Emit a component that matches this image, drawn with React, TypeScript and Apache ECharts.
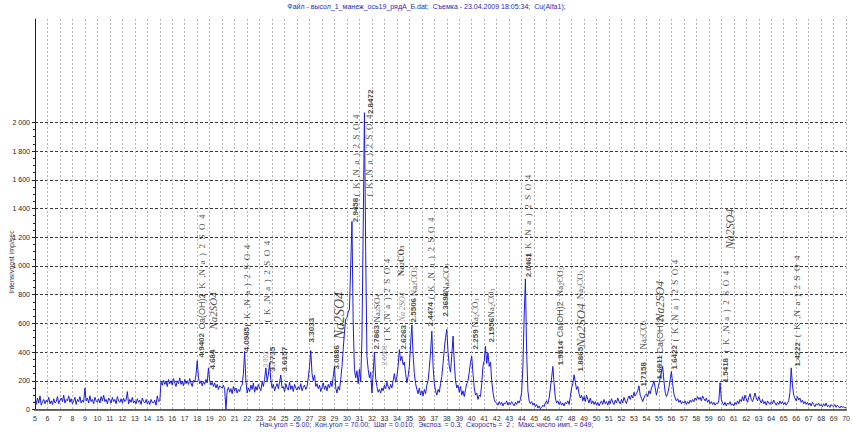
import { useEffect, useRef } from 'react';
import * as echarts from 'echarts';

// ---- Data -------------------------------------------------------------
const angleStart = 5; // 2θ start, degrees
const angleStep = 0.1; // 2θ step used for the hand-read trace

// intensity (imp/sec), one row per degree (x.0 ... x.9)
const intensity: number[] = [
  60, 35, 80, 45, 95, 30, 55, 70, 40, 65, // 5
  50, 85, 40, 60, 35, 75, 45, 55, 90, 40, // 6
  65, 80, 55, 100, 45, 70, 60, 95, 50, 75, // 7
  40, 60, 85, 35, 70, 55, 90, 45, 65, 50, // 8
  150, 60, 80, 45, 95, 55, 70, 40, 85, 60, // 9
  50, 75, 45, 90, 60, 100, 55, 70, 40, 80, // 10
  65, 45, 85, 55, 70, 40, 90, 60, 50, 75, // 11
  45, 80, 55, 65, 125, 40, 70, 50, 85, 45, // 12
  60, 40, 75, 50, 65, 35, 80, 55, 45, 70, // 13
  40, 60, 35, 70, 50, 45, 65, 30, 95, 55, // 14
  60, 190, 170, 205, 175, 195, 160, 210, 180, 200, // 15
  170, 215, 185, 160, 200, 180, 220, 175, 195, 165, // 16
  210, 180, 200, 175, 215, 185, 160, 205, 190, 240, // 17
  340, 220, 180, 200, 165, 195, 175, 210, 185, 290, // 18
  200, 170, 190, 160, 185, 150, 175, 140, 165, 155, // 19
  150, 170, 140, 0, 130, 155, 120, 145, 110, 160, // 20
  130, 150, 115, 140, 125, 160, 170, 250, 405, 200, // 21
  115, 150, 125, 170, 140, 185, 120, 160, 135, 175, // 22
  150, 130, 190, 160, 210, 290, 200, 240, 326, 200, // 23
  150, 175, 130, 160, 180, 145, 190, 240, 150, 160, // 24
  125, 180, 150, 135, 190, 140, 165, 125, 175, 150, // 25
  135, 160, 140, 180, 130, 155, 170, 140, 160, 220, // 26
  300, 410, 250, 200, 240, 160, 180, 145, 170, 125, // 27
  155, 185, 140, 165, 130, 175, 150, 190, 160, 230, // 28
  300, 150, 115, 160, 135, 210, 300, 420, 540, 630, // 29
  640, 676, 700, 1000, 1310, 600, 280, 220, 270, 180, // 30
  280, 200, 500, 1250, 2067, 1100, 370, 280, 220, 260, // 31
  115, 250, 400, 220, 160, 120, 140, 115, 150, 130, // 32
  170, 145, 190, 160, 140, 175, 150, 200, 250, 190, // 33
  230, 300, 417, 340, 370, 310, 330, 250, 186, 230, // 34
  300, 450, 590, 380, 250, 180, 140, 110, 150, 100, // 35
  130, 95, 140, 110, 170, 200, 290, 400, 546, 300, // 36
  180, 130, 100, 140, 120, 180, 230, 320, 420, 500, // 37
  558, 400, 300, 260, 380, 511, 330, 200, 150, 170, // 38
  120, 160, 100, 130, 90, 140, 180, 200, 260, 330, // 39
  371, 250, 150, 100, 115, 70, 100, 90, 180, 300, // 40
  340, 440, 320, 395, 300, 330, 200, 120, 70, 50, // 41
  45, 30, 55, 35, 50, 25, 45, 40, 60, 30, // 42
  50, 35, 55, 40, 25, 50, 35, 60, 45, 70, // 43
  120, 300, 650, 910, 400, 130, 60, 40, 55, 30, // 44
  45, 20, 35, 10, 25, 5, 15, 30, 20, 45, // 45
  60, 40, 80, 150, 220, 300, 180, 80, 45, 60, // 46
  35, 55, 30, 45, 25, 50, 40, 60, 35, 90, // 47
  150, 180, 242, 190, 140, 160, 110, 80, 100, 60, // 48
  90, 55, 100, 70, 45, 80, 40, 60, 35, 55, // 49
  30, 50, 25, 45, 60, 35, 70, 40, 55, 30, // 50
  60, 40, 75, 50, 35, 65, 45, 80, 55, 40, // 51
  70, 45, 85, 60, 40, 75, 95, 70, 100, 80, // 52
  120, 95, 110, 130, 165, 100, 80, 55, 80, 100, // 53
  110, 90, 130, 110, 150, 170, 200, 150, 100, 140, // 54
  180, 220, 260, 300, 200, 120, 90, 110, 150, 210, // 55
  265, 180, 110, 80, 60, 75, 50, 65, 40, 55, // 56
  45, 60, 35, 55, 40, 65, 50, 70, 55, 80, // 57
  65, 90, 70, 85, 60, 95, 75, 60, 80, 50, // 58
  65, 40, 55, 35, 50, 30, 45, 40, 60, 186, // 59
  70, 45, 30, 50, 25, 45, 35, 55, 30, 40, // 60
  25, 50, 35, 60, 40, 70, 55, 90, 60, 100, // 61
  75, 50, 85, 110, 70, 55, 80, 115, 80, 60, // 62
  90, 65, 45, 70, 40, 55, 30, 60, 45, 35, // 63
  55, 40, 65, 45, 30, 50, 35, 60, 40, 55, // 64
  35, 50, 30, 45, 60, 120, 290, 170, 100, 80, // 65
  60, 90, 65, 80, 50, 65, 40, 55, 35, 50, // 66
  30, 45, 25, 50, 35, 20, 40, 30, 45, 25, // 67
  35, 20, 40, 25, 45, 20, 30, 15, 35, 25, // 68
  20, 35, 15, 30, 20, 10, 25, 15, 20, 10, // 69
  15, // 70
];

// peak annotations: 2θ anchor, intensity anchor, text, kind
const labelAngles = [
  18.34, 19.22, 21.93, 23.45, 24.01, 24.97, 27.12, 29.2, 30.72, 31.92, 32.4, 33.04, 34.55,
  35.35, 36.71, 37.91, 40.3, 41.58, 44.54, 47.09, 48.69, 53.8, 55.08, 56.28, 60.35, 66.1,
  18.42, 22.01, 23.61, 30.72, 31.76, 33.2, 36.71, 44.54, 56.28, 60.35, 66.1,
  19.3, 29.44, 32.4, 34.47, 48.69, 55.08, 60.67,
  34.31, 35.35, 37.91, 40.3, 41.58, 47.09, 48.69, 53.72,
  18.42, 47.09, 55.08,
];
const labelLevels = [
  359, 275, 401, 289, 262, 262, 464, 275, 1301, 2054, 415, 304, 415,
  603, 575, 645, 415, 464, 917, 304, 262, 157, 206, 275, 185, 296,
  785, 575, 603, 1482, 1482, 478, 764, 1063, 471, 394, 499,
  554, 485, 603, 610, 429, 610, 1112,
  924, 785, 812, 568, 638, 785, 764, 415,
  554, 499, 387,
];
const K = '( K ,N a ) 2 S O 4';
const labelTexts = [
  '4.9402', '4.684', '4.0985', '3.802', '3.7735', '3.6157', '3.3033', '3.0836', '2.9458', '2.8472',
  '2.7863', '2.6508', '2.6263', '2.5506', '2.4474', '2.3698', '2.259', '2.1956', '2.0461', '1.9514',
  '1.8865', '1.7158', '1.6811', '1.6422', '1.5418', '1.4222',
  K, K, K, K, K, K, K, K, K, K, K,
  'Na2SO4', 'Na2SO4', 'Na2SO4', 'Na 2SO4', 'Na2SO4', 'Na2SO4', 'Na2SO4',
  'Na2CO3', 'Na2CO3', 'Na2CO3', 'Na2CO3', 'Na2CO3', 'Na2CO3', 'Na2CO3', 'Na2CO3',
  'Ca(OH)2', 'Ca(OH)2', 'Ca(OH)2',
];
const labelKinds = [
  'num', 'num', 'num', 'numSmall', 'num', 'num', 'num', 'num', 'num', 'num',
  'num', 'numSmall', 'num', 'num', 'num', 'num', 'num', 'num', 'num', 'num',
  'num', 'num', 'num', 'num', 'num', 'num',
  'k', 'k', 'k', 'k', 'k', 'k', 'k', 'k', 'k', 'k', 'k',
  'ni11', 'ni14', 'nsUp', 'ni8', 'ni13', 'ni12', 'ni12',
  'ncBold', 'nc', 'nc', 'nc', 'nc', 'nc', 'nc', 'nc',
  'ca', 'ca', 'ca',
];

const yMajorTicks = [0, 200, 400, 600, 800, 1000, 1200, 1400, 1600, 1800, 2000];
const yMinorTicks = [
  50, 100, 150, 250, 300, 350, 450, 500, 550, 650, 700, 750, 850, 900, 950, 1050, 1100, 1150,
  1250, 1300, 1350, 1450, 1500, 1550, 1650, 1700, 1750, 1850, 1900, 1950,
];

const titleText =
  'Файл - высол_1_манеж_ось19_рядА_Б.dat;  Съемка - 23.04.2009 18:05:34;  Cu(Alfa1);';
const footerText =
  'Нач.угол = 5.00;  Кон.угол = 70.00;  Шаг = 0.010;  Экспоз. = 0.3;  Скорость =  2 ;  Макс.число имп. = 649;';
const yName = 'Intensivnost imp/sec';

// ---- Styles ------------------------------------------------------------
const SANS = "'Liberation Sans', Arial, sans-serif";
const SERIF = "'Liberation Serif', 'DejaVu Serif', serif";

const rich: Record<string, any> = {
  d: { fontFamily: SANS, fontWeight: 'bold', fontSize: 8, color: '#1a1a1a' },
  ds: { fontFamily: SANS, fontSize: 6.5, color: '#808080' },
  k: { fontFamily: SERIF, fontSize: 9, color: '#222' },
  ca: { fontFamily: SANS, fontSize: 9, color: '#222' },
  ni8: { fontFamily: SERIF, fontStyle: 'italic', fontSize: 8, color: '#666' },
  ni11: { fontFamily: SERIF, fontStyle: 'italic', fontSize: 11, color: '#222' },
  ni12: { fontFamily: SERIF, fontStyle: 'italic', fontSize: 12, color: '#222' },
  ni13: { fontFamily: SERIF, fontStyle: 'italic', fontSize: 13, color: '#222' },
  ni14: { fontFamily: SERIF, fontStyle: 'italic', fontSize: 14, color: '#222' },
  nc: { fontFamily: SERIF, fontSize: 9, color: '#222' },
  ncSub: { fontFamily: SERIF, fontSize: 6, color: '#222', verticalAlign: 'bottom' },
  ncBold: { fontFamily: SERIF, fontSize: 9, fontWeight: 'bold', color: '#111' },
  ncBoldSub: { fontFamily: SERIF, fontSize: 6, fontWeight: 'bold', color: '#111', verticalAlign: 'bottom' },
  nsUp: { fontFamily: SERIF, fontSize: 9, color: '#222' },
  nsUpSub: { fontFamily: SERIF, fontSize: 6, color: '#222', verticalAlign: 'bottom' },
};

function richFor(text: string, kind: string): string {
  if (kind === 'num') return `{d|${text}}`;
  if (kind === 'numSmall') return `{ds|${text}}`;
  if (kind === 'k') return `{k|${text.split(' ').join('  ')}}`;
  if (kind === 'ca') return `{ca|${text}}`;
  if (kind.startsWith('ni')) return `{${kind}|${text}}`;
  return text
    .split(/(\d)/)
    .filter((s) => s.length > 0)
    .map((s) => (/\d/.test(s) ? `{${kind}Sub|${s}}` : `{${kind}|${s}}`))
    .join('');
}

function fmtY(v: number): string {
  if (v >= 1000) {
    return `${Math.floor(v / 1000)} ${String(v % 1000).padStart(3, '0')}`;
  }
  return String(v);
}

export default function App() {
  const ref = useRef<HTMLDivElement>(null);

  useEffect(() => {
    document.body.style.margin = '0';
    if (!ref.current) return;
    const chart = echarts.init(ref.current, undefined, { renderer: 'svg' });

    const trace = intensity.map((v, i) => [Number((angleStart + i * angleStep).toFixed(2)), v]);
    const annData = labelAngles.map((a, i) => [a, labelLevels[i]]);

    const splitColors = yMajorTicks.map(() => '#3a3a3a').concat([
      'rgba(0,0,0,0)', 'rgba(0,0,0,0)', 'rgba(0,0,0,0)', 'rgba(0,0,0,0)',
    ]);

    chart.setOption({
      animation: false,
      backgroundColor: '#ffffff',
      title: [
        {
          text: titleText,
          left: 'center',
          top: 3,
          padding: 0,
          textStyle: { fontSize: 7, fontWeight: 'normal', color: '#2a2ab4', fontFamily: SANS },
        },
        {
          text: footerText,
          left: 'center',
          top: 421,
          padding: 0,
          textStyle: { fontSize: 7, fontWeight: 'normal', color: '#2a2ab4', fontFamily: SANS },
        },
      ],
      grid: { left: 35, right: 4, top: 19, bottom: 22.5, containLabel: false },
      xAxis: [
        {
          type: 'value',
          min: 5,
          max: 70,
          interval: 1,
          axisLine: { show: true, lineStyle: { color: '#707070', width: 2 } },
          axisTick: { show: false },
          axisLabel: { fontSize: 7, color: '#333', margin: 5, fontFamily: SANS },
          splitLine: { show: true, lineStyle: { color: '#b4b4b4', type: [2, 2], width: 1 } },
        },
        {
          type: 'value',
          position: 'top',
          min: 5,
          max: 70,
          interval: 1,
          axisLine: { show: true, lineStyle: { color: '#555', width: 1 } },
          axisTick: { show: false },
          axisLabel: { show: false },
          splitLine: { show: false },
        },
      ],
      yAxis: [
        {
          type: 'value',
          min: 0,
          max: 2720,
          interval: 200,
          axisLine: { show: true, lineStyle: { color: '#222', width: 1 } },
          axisTick: {
            show: true,
            length: 3,
            customValues: yMajorTicks,
            lineStyle: { color: '#222' },
          },
          axisLabel: {
            customValues: yMajorTicks,
            fontSize: 7,
            color: '#222',
            margin: 5,
            fontFamily: SANS,
            formatter: (v: number) => (v > 2000 ? '' : fmtY(v)),
          },
          splitLine: {
            show: true,
            lineStyle: { color: splitColors, type: [3, 2], width: 1 },
          },
        },
        {
          type: 'value',
          min: 0,
          max: 2720,
          position: 'left',
          axisLine: { show: false },
          axisTick: {
            show: true,
            length: 2,
            customValues: yMinorTicks,
            lineStyle: { color: '#222' },
          },
          axisLabel: { show: false },
          splitLine: { show: false },
        },
      ],
      graphic: [
        {
          type: 'text',
          x: 11,
          y: 262,
          rotation: Math.PI / 2,
          style: {
            text: yName,
            fontSize: 7,
            fill: '#333',
            align: 'center',
            verticalAlign: 'middle',
            fontFamily: SANS,
          },
        },
      ],
      series: [
        {
          type: 'line',
          data: trace,
          xAxisIndex: 0,
          yAxisIndex: 0,
          showSymbol: false,
          symbol: 'none',
          smooth: false,
          lineStyle: { color: '#1c1ce0', width: 1 },
          z: 3,
          silent: true,
        },
        {
          type: 'scatter',
          data: annData,
          xAxisIndex: 0,
          yAxisIndex: 0,
          symbolSize: 1,
          itemStyle: { color: 'rgba(0,0,0,0)' },
          silent: true,
          z: 5,
          label: {
            show: true,
            position: 'top',
            distance: 0,
            rotate: 90,
            align: 'left',
            verticalAlign: 'middle',
            formatter: (p: any) => richFor(labelTexts[p.dataIndex], labelKinds[p.dataIndex]),
            rich,
          },
          labelLayout: { hideOverlap: false },
        },
      ],
    });

    return () => {
      chart.dispose();
    };
  }, []);

  return <div ref={ref} style={{ width: 853, height: 432 }} />;
}
